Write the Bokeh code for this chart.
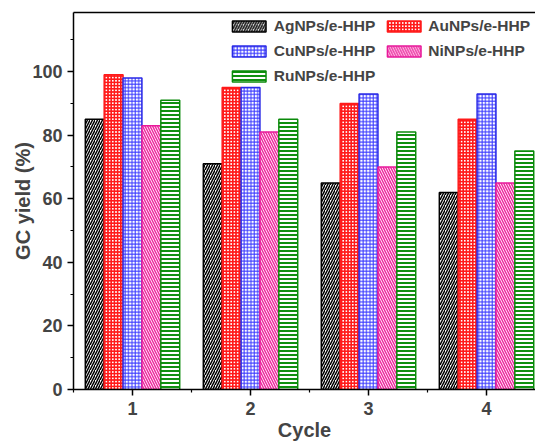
from bokeh.plotting import figure
from bokeh.models import (ColumnDataSource, Range1d, FixedTicker, SingleIntervalTicker,
                          LinearAxis, Legend, LegendItem)
from bokeh.transform import dodge
from bokeh.embed import file_html
from bokeh.resources import INLINE

cycles = [1, 2, 3, 4]
ag = [85, 71, 65, 62]
au = [99, 95, 90, 85]
cu = [98, 95, 93, 93]
ni = [83, 81, 70, 65]
ru = [91, 85, 81, 75]
names = ["AgNPs/e-HHP", "AuNPs/e-HHP", "CuNPs/e-HHP", "NiNPs/e-HHP", "RuNPs/e-HHP"]

src = ColumnDataSource(dict(cycle=cycles, ag=ag, au=au, cu=cu, ni=ni, ru=ru))

FONT = "Liberation Sans"
p = figure(width=535, height=445, output_backend="svg", toolbar_location=None,
           x_range=Range1d(0.5, 4.415), y_range=Range1d(0, 118.6),
           min_border_left=73, min_border_top=12, min_border_bottom=56, min_border_right=0)
p.outline_line_color = None
p.xgrid.visible = False
p.ygrid.visible = False

w = 0.16
styles = [
    ("ag", -2 * w, dict(fill_color="white", line_color="black", hatch_pattern="/", hatch_color="black", hatch_weight=1.5, hatch_scale=5)),
    ("au", -w, dict(fill_color="white", line_color="#ff1a1a", hatch_pattern="+", hatch_color="#ff1a1a", hatch_weight=2, hatch_scale=3.2)),
    ("cu", 0, dict(fill_color="white", line_color="#2a2ae6", hatch_pattern="+", hatch_color="#3535ff", hatch_weight=1, hatch_scale=3.4)),
    ("ni", w, dict(fill_color="white", line_color="#e8189a", hatch_pattern="\\", hatch_color="#ee2aa0", hatch_weight=1.5, hatch_scale=5)),
    ("ru", 2 * w, dict(fill_color="white", line_color="#0a8a0a", hatch_pattern="-", hatch_color="#109010", hatch_weight=2, hatch_scale=4)),
]
renderers = []
for key, off, st in styles:
    r = p.vbar(x=dodge("cycle", off, range=p.x_range), top=key, width=w, bottom=0,
               source=src, line_width=1.5, **st)
    renderers.append(r)

items = [LegendItem(label=names[i], renderers=[renderers[i]]) for i in range(5)]
legend = Legend(items=items, location="top_right", orientation="horizontal", ncols=2,
                label_text_font=FONT, label_text_font_style="bold", label_text_font_size="15.5px",
                glyph_width=42, glyph_height=14, spacing=7, label_standoff=4,
                padding=5, margin=5, border_line_color=None, background_fill_alpha=0,
                label_height=15)
p.add_layout(legend)

# axes
p.xaxis.ticker = FixedTicker(ticks=cycles, minor_ticks=[0.5, 1.5, 2.5, 3.5])
p.yaxis.ticker = SingleIntervalTicker(interval=20, num_minor_ticks=2)
for ax in (p.xaxis[0], p.yaxis[0]):
    ax.axis_line_width = 1.5
    ax.major_tick_line_width = 1.5
    ax.minor_tick_line_width = 1.2
    ax.major_tick_out = 6
    ax.major_tick_in = 0
    ax.minor_tick_out = 3
    ax.minor_tick_in = 0
    ax.major_label_text_font = FONT
    ax.major_label_text_font_style = "bold"
    ax.major_label_text_font_size = "18px"
    ax.axis_label_text_font = FONT
    ax.axis_label_text_font_style = "bold"
    ax.axis_label_text_font_size = "20px"
p.xaxis.axis_label = "Cycle"
p.yaxis.axis_label = "GC yield (%)"
p.xaxis.major_label_standoff = 6
p.xaxis.axis_label_standoff = 1
p.yaxis.major_label_standoff = 5
p.yaxis.axis_label_standoff = -5

top = LinearAxis(ticker=FixedTicker(ticks=[], minor_ticks=[]), axis_line_width=1.5,
                 major_tick_line_color=None, minor_tick_line_color=None)
p.add_layout(top, "above")

open("out.html", "w").write(file_html(p, INLINE))
